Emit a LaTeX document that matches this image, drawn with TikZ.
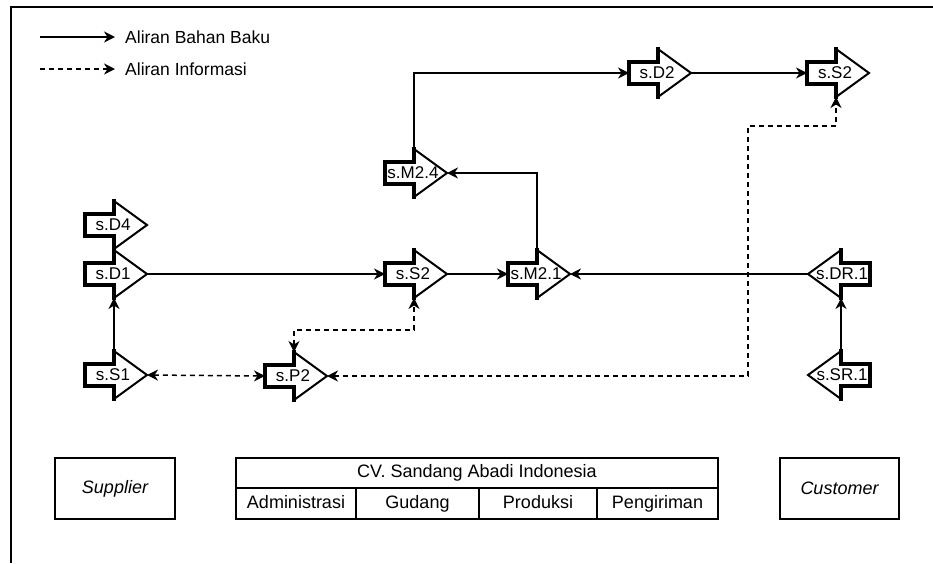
\documentclass[tikz,border=0pt]{standalone}
\usepackage{fontspec}
\setmainfont{Liberation Sans}
\usetikzlibrary{arrows.meta}

% Block arrow pointing right: #1 name, #2 left edge of body, #3 centre line, #4 label
\newcommand\rblock[4]{%
  \draw[blockline] (#2,#3-11) -- (#2+29,#3-11) -- (#2+29,#3-24) -- (#2+62,#3)
    -- (#2+29,#3+24) -- (#2+29,#3+11) -- (#2,#3+11) -- cycle;
  \draw[bodyline] (#2+29,#3-24) -- (#2+29,#3-11) -- (#2,#3-11) -- (#2,#3+11)
    -- (#2+29,#3+11) -- (#2+29,#3+24);
  \node[blocklabel] (#1) at (#2+28,#3) {#4};
  \coordinate (#1-tail) at (#2,#3);
  \coordinate (#1-tip) at (#2+62,#3);
  \coordinate (#1-top) at (#2+29,#3-24);
  \coordinate (#1-bot) at (#2+29,#3+24);
}
% Block arrow pointing left: #2 is the right edge of body
\newcommand\lblock[4]{%
  \draw[blockline] (#2,#3-11) -- (#2-29,#3-11) -- (#2-29,#3-24) -- (#2-62,#3)
    -- (#2-29,#3+24) -- (#2-29,#3+11) -- (#2,#3+11) -- cycle;
  \draw[bodyline] (#2-29,#3-24) -- (#2-29,#3-11) -- (#2,#3-11) -- (#2,#3+11)
    -- (#2-29,#3+11) -- (#2-29,#3+24);
  \node[blocklabel] (#1) at (#2-28,#3) {#4};
  \coordinate (#1-tail) at (#2,#3);
  \coordinate (#1-tip) at (#2-62,#3);
  \coordinate (#1-top) at (#2-29,#3-24);
  \coordinate (#1-bot) at (#2-29,#3+24);
}

\tikzset{
  blockline/.style={line width=2pt, fill=white, line join=miter},
  bodyline/.style={line width=3.4pt, line join=miter, line cap=rect},
  blocklabel/.style={inner sep=0pt, font=\fontsize{17}{19}\selectfont},
  headtip/.tip={Stealth[length=11pt,width=11pt,inset=3.5pt]},
  material/.style={line width=1.5pt, -headtip},
  info/.style={line width=1.5pt, dash pattern=on 5pt off 4pt, headtip-headtip},
  infoone/.style={line width=1.5pt, dash pattern=on 5pt off 4pt, -headtip},
  legendtext/.style={anchor=west, inner sep=0pt, font=\fontsize{17.5}{20}\selectfont},
  partybox/.style={draw, line width=1.4pt, minimum width=120pt, minimum height=61pt,
    inner sep=0pt, font=\fontsize{18}{20}\selectfont\itshape},
  cell/.style={draw, line width=1.4pt, inner sep=0pt, text height=13pt, text depth=4pt,
    font=\fontsize{18}{20}\selectfont},
}

\begin{document}
\begin{tikzpicture}[x=1pt, y=-1pt]
  \useasboundingbox (0,0) rectangle (933,563);

  % outer frame (top and left sides)
  \draw[line width=1.5pt] (933,7) -- (11,7) -- (11,563);

  % legend
  \coordinate (lgA1) at (40,37);
  \coordinate (lgA2) at (115,37);
  \coordinate (lgB1) at (40,69);
  \coordinate (lgB2) at (115,69);
  \draw[material] (lgA1) -- (lgA2);
  \draw[infoone] (lgB1) -- (lgB2);
  \node[legendtext] (lgAt) at (125,37) {Aliran Bahan Baku};
  \node[legendtext] (lgBt) at (125,69) {Aliran Informasi};

  % process blocks
  \rblock{D4}{85}{225}{s.D4}
  \rblock{D1}{85}{274}{s.D1}
  \rblock{S1}{85}{375}{s.S1}
  \rblock{P2}{265}{376}{s.P2}
  \rblock{S2m}{385}{274}{s.S2}
  \rblock{M21}{508}{274}{s.M2.1}
  \rblock{M24}{385}{173}{s.M2.4}
  \rblock{D2}{629}{73}{s.D2}
  \rblock{S2r}{807}{73}{s.S2}
  \lblock{DR1}{870}{274}{s.DR.1}
  \lblock{SR1}{870}{375}{s.SR.1}

  % material flow
  \draw[material] (S1-top) -- (D1-bot);
  \draw[material] (D1-tip) -- (S2m-tail);
  \draw[material] (S2m-tip) -- (M21-tail);
  \draw[material] (M21-top) |- (M24-tip);
  \draw[material] (M24-top) |- (D2-tail);
  \draw[material] (D2-tip) -- (S2r-tail);
  \draw[material] (DR1-tip) -- (M21-tip);
  \draw[material] (SR1-top) -- (DR1-bot);

  % information flow
  \coordinate (jP) at (0,330);
  \coordinate (jR) at (748,126);
  \draw[info] (S1-tip) -- (P2-tail);
  \draw[info] (P2-top) -- (P2-top |- jP) -| (S2m-bot);
  \draw[info] (P2-tip) -| (jR) -| (S2r-bot);

  % parties
  \node[partybox] (sup) at (115,488.5) {Supplier};
  \node[partybox, minimum width=119pt] (cus) at (839.5,488.5) {Customer};
  \node[cell, minimum width=482pt, minimum height=30pt] (cv) at (477,473) {CV. Sandang Abadi Indonesia};
  \node[cell, minimum width=120pt, minimum height=31pt] (adm) at (296,503.5) {Administrasi};
  \node[cell, minimum width=123pt, minimum height=31pt] (gud) at (417.5,503.5) {Gudang};
  \node[cell, minimum width=118pt, minimum height=31pt] (pro) at (538,503.5) {Produksi};
  \node[cell, minimum width=121pt, minimum height=31pt] (pen) at (657.5,503.5) {Pengiriman};
\end{tikzpicture}
\end{document}
